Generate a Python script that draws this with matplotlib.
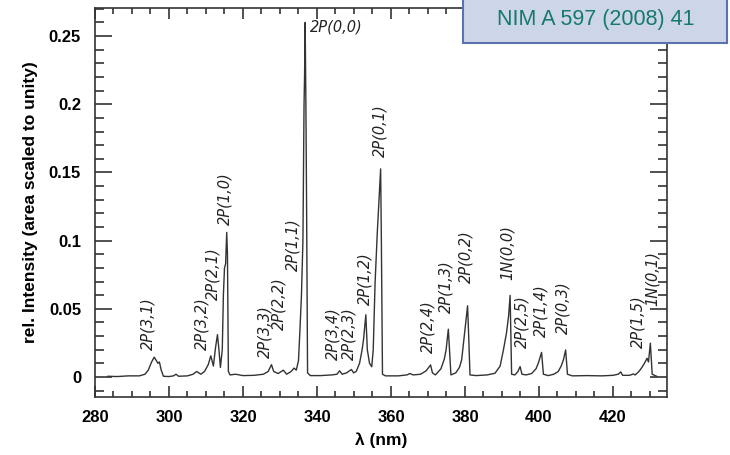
import matplotlib
matplotlib.use("Agg")
import matplotlib.pyplot as plt
from matplotlib.patches import Rectangle
from matplotlib.ticker import MultipleLocator

# spectrum (wavelength in nm, relative intensity)
wl = [283.5, 286, 289, 292, 293.5, 294.4, 295.3, 296.0, 296.7, 297.0, 297.4, 297.9, 298.5,
      300, 301.2, 301.9, 302.6, 305, 306.5, 307.5, 308.6, 309.6, 310.6, 311.3, 312.0, 312.6,
      313.1, 313.5, 313.9, 314.4, 314.7, 315.0, 315.3, 315.6, 315.8, 316.05, 316.5, 318, 320,
      323, 325.5, 326.8, 327.7, 328.3, 329.5, 330.9, 331.8, 333.0, 333.8, 334.4, 335.0, 335.4,
      335.8, 336.2, 336.5, 336.65, 336.8, 337.0, 337.2, 337.45, 338.2, 341, 344, 345.4, 346.1,
      346.8, 348.0, 349.3, 349.9, 350.6, 351.5, 352.2, 352.6, 353.2, 353.6, 354.2, 354.8, 355.2,
      355.7, 356.3, 357.2, 357.4, 357.7, 358.5, 362, 364.3, 365.1, 366.0, 368.0, 369.5, 370.7,
      371.2, 372.0, 373.5, 374.4, 374.9, 375.5, 375.8, 376.2, 377.5, 378.5, 379.1, 380.0, 380.7,
      381.0, 381.35, 383, 386, 388.1, 389.5, 390.4, 391.2, 391.8, 392.2, 392.6, 393.5, 394.3,
      394.9, 395.4, 396.5, 398.0, 399.2, 399.8, 400.7, 401.2, 402.5, 404.0, 405.2, 406.0, 406.6,
      407.2, 407.7, 409, 413, 417, 420, 421.4, 422.1, 422.6, 424.5, 425.5, 426.0, 427.0, 427.7,
      428.5, 429.2, 429.6, 430.1, 430.6, 431.8]
inten = [0.0005, 0.0003, 0.0008, 0.0008, 0.002, 0.005, 0.011, 0.0145, 0.0115, 0.0100, 0.0110,
         0.005, 0.0005, 0.0003, 0.0008, 0.002, 0.0005, 0.0008, 0.002, 0.004, 0.002, 0.004, 0.009,
         0.0155, 0.008, 0.022, 0.031, 0.020, 0.007, 0.02, 0.06, 0.080, 0.083, 0.106, 0.09, 0.004,
         0.0015, 0.002, 0.001, 0.0012, 0.002, 0.004, 0.009, 0.004, 0.0025, 0.005, 0.002, 0.004,
         0.0065, 0.005, 0.012, 0.035, 0.060, 0.100, 0.200, 0.222, 0.260, 0.200, 0.12, 0.003,
         0.001, 0.001, 0.0015, 0.002, 0.0045, 0.002, 0.003, 0.0055, 0.003, 0.004, 0.010, 0.020,
         0.028, 0.0456, 0.020, 0.010, 0.0075, 0.02, 0.069, 0.106, 0.1526, 0.10, 0.002, 0.0008,
         0.0008, 0.0015, 0.0025, 0.0015, 0.002, 0.0045, 0.0088, 0.003, 0.0015, 0.006, 0.013,
         0.020, 0.035, 0.02, 0.0015, 0.003, 0.007, 0.0125, 0.0345, 0.0522, 0.03, 0.0015, 0.001,
         0.0015, 0.0027, 0.008, 0.020, 0.032, 0.045, 0.0598, 0.002, 0.0015, 0.004, 0.0076, 0.002,
         0.0015, 0.0025, 0.006, 0.010, 0.018, 0.002, 0.001, 0.002, 0.004, 0.008, 0.0125, 0.0198,
         0.002, 0.0008, 0.001, 0.0008, 0.0012, 0.002, 0.0037, 0.0012, 0.0012, 0.0022, 0.0015,
         0.004, 0.0065, 0.010, 0.0137, 0.011, 0.0248, 0.002, 0.0005]

# band labels: text, x (nm), y of the label's lower end
band_names = ["2P(3,1)", "2P(3,2)", "2P(2,1)", "2P(1,0)", "2P(3,3)", "2P(2,2)", "2P(1,1)",
              "2P(3,4)", "2P(2,3)", "2P(1,2)", "2P(0,1)", "2P(2,4)", "2P(1,3)", "2P(0,2)",
              "1N(0,0)", "2P(2,5)", "2P(1,4)", "2P(0,3)", "2P(1,5)", "1N(0,1)"]
band_x = [294.4, 308.8, 312.0, 315.1, 325.8, 329.8, 333.4, 344.2, 348.5, 353.0, 357.0,
          370.1, 374.9, 380.2, 391.5, 395.5, 400.4, 406.6, 426.8, 430.6]
band_y = [0.0199, 0.0199, 0.0566, 0.1117, 0.0137, 0.0345, 0.0774, 0.0125, 0.0125, 0.053,
          0.161, 0.0179, 0.047, 0.0689, 0.0713, 0.021, 0.0296, 0.0316, 0.021, 0.052]

x_ticks = [280, 300, 320, 340, 360, 380, 400, 420]
y_ticks = [0, 0.05, 0.1, 0.15, 0.2, 0.25]
y_tick_labels = ["0", "0.05", "0.1", "0.15", "0.2", "0.25"]

fig = plt.figure(figsize=(7.3, 4.55), dpi=100)
ax = fig.add_axes([95 / 730, 1 - 397 / 455, (667 - 95) / 730, (397 - 8) / 455])

ax.plot(wl, inten, color="#333333", lw=1.0)

for name, x, y in zip(band_names, band_x, band_y):
    ax.text(x, y, name, rotation=90, ha="center", va="bottom", fontsize=10.5,
            style="italic", family="DejaVu Sans", color="#222222")
ax.text(338.1, 0.257, "2P(0,0)", ha="left", va="center", fontsize=10.5,
        style="italic", family="DejaVu Sans", color="#222222")

ax.set_xlim(280, 434.6)
ax.set_ylim(-0.0147, 0.2706)
ax.set_xticks(x_ticks)
ax.set_yticks(y_ticks)
ax.set_yticklabels(y_tick_labels)
ax.xaxis.set_minor_locator(MultipleLocator(5))
ax.yaxis.set_minor_locator(MultipleLocator(0.01))

ax.tick_params(axis="both", which="both", direction="in", top=True, right=True,
               color="#333333", width=1.2)
ax.tick_params(axis="x", which="major", length=8, pad=9)
ax.tick_params(axis="x", which="minor", length=4.5)
ax.tick_params(axis="y", which="major", length=12.5, pad=10)
ax.tick_params(axis="y", which="minor", length=6.5)
for lab in ax.get_xticklabels() + ax.get_yticklabels():
    lab.set_fontfamily("Liberation Sans")
    lab.set_fontweight("bold")
    lab.set_fontsize(12)
for sp in ax.spines.values():
    sp.set_color("#333333")
    sp.set_linewidth(1.2)

ax.set_xlabel("λ (nm)", fontsize=12.5, fontweight="bold", family="Liberation Sans", labelpad=6)
ax.set_ylabel("rel. Intensity (area scaled to unity)", fontsize=12.5, fontweight="bold",
              family="Liberation Sans", labelpad=8)

# reference box in the top right corner
fig.patches.append(Rectangle((463 / 730, 1 - 43 / 455), (727 - 463) / 730, 60 / 455,
                             transform=fig.transFigure, facecolor="#CDD6E9",
                             edgecolor="#5A72AE", lw=1.5, zorder=5))
fig.text(596 / 730, 1 - 20 / 455, "NIM A 597 (2008) 41", ha="center", va="center",
         fontsize=15.5, family="Liberation Sans", color="#16796E", zorder=6)

fig.savefig("out.png", dpi=100)
